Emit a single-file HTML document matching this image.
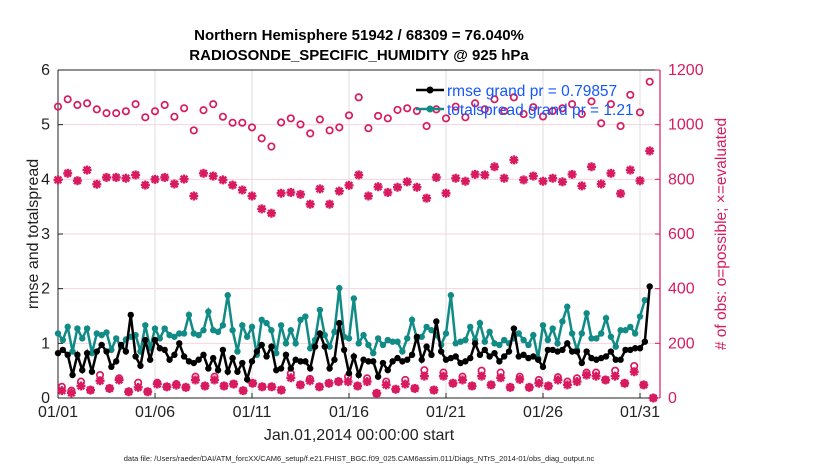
<!DOCTYPE html>
<html><head><meta charset="utf-8"><style>
body{margin:0;background:#fff;}
svg{display:block;font-family:"Liberation Sans",sans-serif;}
</style></head><body>
<svg id="chart" width="830" height="470"></svg>
<script>
const rmse=[0.82,0.88,0.79,0.42,0.79,0.51,0.82,0.48,0.85,0.97,0.85,0.57,0.67,0.97,0.85,1.52,0.76,0.59,1.06,0.70,1.06,0.91,0.88,0.70,0.79,1.00,0.76,0.67,0.64,0.70,0.79,0.54,0.73,0.51,0.88,0.48,0.73,0.48,0.64,0.34,0.67,0.85,0.97,0.76,0.94,0.51,0.54,0.79,0.54,0.70,0.67,0.67,0.54,0.94,1.18,0.94,0.54,0.70,1.37,0.88,0.45,
0.76,0.42,0.70,0.67,0.67,0.39,0.64,0.51,0.67,0.73,0.67,0.70,0.79,1.12,0.70,0.94,0.79,1.40,0.85,0.70,0.73,0.76,0.64,0.67,0.73,1.00,0.79,0.88,0.76,0.82,0.67,0.76,0.85,1.27,0.76,0.79,0.73,0.76,0.70,0.57,0.88,0.88,0.85,0.88,1.00,0.85,0.85,0.64,0.85,0.73,0.70,0.73,0.76,0.85,0.70,0.70,0.88,0.88,0.91,0.91,1.03,2.04];
const spread=[1.18,1.06,1.30,0.85,1.27,1.09,1.27,0.82,1.18,1.15,1.20,0.88,1.09,0.94,1.07,1.12,1.15,0.85,1.33,0.91,1.27,1.09,1.27,1.15,1.12,1.18,1.18,1.52,1.18,1.15,1.24,1.58,1.24,1.21,1.33,1.88,1.24,0.85,1.33,1.12,1.30,0.79,1.43,1.37,1.24,0.82,1.33,1.00,1.24,1.00,1.43,1.49,0.91,1.06,1.61,1.15,0.94,1.21,2.01,1.12,1.09,
1.82,1.00,1.15,0.97,0.82,1.09,0.97,1.06,1.03,1.03,0.85,1.09,1.43,1.09,1.12,1.30,1.24,1.15,0.97,1.18,1.88,1.00,1.03,1.06,1.30,1.06,1.37,1.03,1.21,1.00,0.97,1.06,1.00,1.09,1.18,1.06,0.97,1.15,0.73,1.33,1.06,1.27,1.00,1.40,1.67,1.18,0.88,1.18,1.55,1.09,1.09,1.18,1.46,1.12,0.94,1.24,1.24,1.30,1.18,1.49,1.79];
const upperPossible=[1066,1093,1072,1078,1056,1042,1042,1049,1075,1027,1049,1072,1029,1060,979,1053,1075,1029,1007,1007,990,950,920,1008,1023,1001,968,1019,979,990,1034,1100,
987,1032,1023,1054,1060,1050,995,1056,1023,1066,1027,1078,1056,1093,1050,1100,1039,1064,1030,1050,1060,1075,1039,1085,1005,1075,995,1109,1045,1157];
const upperEvaluated=[798,822,795,834,782,807,807,804,816,779,800,807,783,801,739,822,812,798,779,761,739,692,676,749,752,745,709,765,709,757,778,816,
739,773,752,771,791,771,731,807,749,804,793,818,816,846,804,871,798,812,793,804,791,818,776,846,783,822,748,834,795,904];
const lowerPossible=[41,27,60,29,84,35,72,23,56,23,56,41,51,39,78,44,78,44,51,27,54,41,41,29,90,48,70,41,54,60,78,
44,72,17,60,32,66,35,102,29,93,54,78,44,100,48,93,39,78,39,66,44,76,60,72,93,93,66,100,54,117,48,0];
const lowerEvaluated=[27,19,44,29,63,35,66,23,39,23,51,41,47,39,66,44,66,44,51,27,54,41,41,29,74,48,63,41,54,60,60,
44,60,17,48,32,51,35,80,29,80,54,66,44,80,48,74,39,68,39,54,44,66,48,60,84,80,66,80,54,96,48,0];
const xTickLabels=["01/01","01/06","01/11","01/16","01/21","01/26","01/31"];
const xTickDays=[0,5,10,15,20,25,30];
const leftTicks=[0,1,2,3,4,5,6];
const rightTicks=[0,200,400,600,800,1000,1200];

const L=58,R=660,T=70,B=398;
const xs=d=>L+d*19.4;
const yl=v=>B-v*(B-T)/6;
const yr=v=>B-v*(B-T)/1200;
const svg=document.getElementById('chart');
const NS='http://www.w3.org/2000/svg';
function mk(tag,attrs,parent){const e=document.createElementNS(NS,tag);for(const k in attrs)e.setAttribute(k,attrs[k]);(parent||svg).appendChild(e);return e;}
const CR='#d81b60',TE='#108b85';

xTickDays.forEach((d,i)=>{const g=mk('line',{x1:xs(d),x2:xs(d),y1:T,y2:B,stroke:'#dcdcdc','stroke-width':1});

});
rightTicks.forEach(v=>{const g=mk('line',{x1:L,x2:R,y1:yr(v),y2:yr(v),stroke:'#f6d3df','stroke-width':1});

});

mk('line',{x1:L,x2:R,y1:T,y2:T,stroke:'#222','stroke-width':1});
const xa=mk('line',{x1:L,x2:R,y1:B,y2:B,stroke:'#222','stroke-width':1});


const la=mk('line',{x1:L,x2:L,y1:T,y2:B,stroke:'#222','stroke-width':1});


const ra=mk('line',{x1:R,x2:R,y1:T,y2:B,stroke:CR,'stroke-width':1.2});



xTickDays.forEach((d,i)=>{mk('line',{x1:xs(d),x2:xs(d),y1:B,y2:B-5,stroke:'#222'});
const t=mk('text',{x:xs(d),y:B+19,'text-anchor':'middle','font-size':16,fill:'#222'});t.textContent=xTickLabels[i];

});
leftTicks.forEach(v=>{mk('line',{x1:L,x2:L+5,y1:yl(v),y2:yl(v),stroke:'#222'});
const t=mk('text',{x:L-8,y:yl(v)+5,'text-anchor':'end','font-size':16,fill:'#222'});t.textContent=v;

});
rightTicks.forEach(v=>{mk('line',{x1:R,x2:R-5,y1:yr(v),y2:yr(v),stroke:CR});
const t=mk('text',{x:R+8,y:yr(v)+5,'text-anchor':'start','font-size':16,fill:CR});t.textContent=v;

});

function circle(x,y,name){const c=mk('circle',{cx:x,cy:y,r:3.2,fill:'none',stroke:CR,'stroke-width':1.7});

}
function star(x,y,name){const g=mk('g',{stroke:CR,'stroke-width':2.4});
mk('line',{x1:x-4.5,x2:x+4.5,y1:y,y2:y},g);mk('line',{x1:x,x2:x,y1:y-4.5,y2:y+4.5},g);
mk('line',{x1:x-3.3,x2:x+3.3,y1:y-3.3,y2:y+3.3},g);mk('line',{x1:x-3.3,x2:x+3.3,y1:y+3.3,y2:y-3.3},g);

}
upperPossible.forEach((v,i)=>circle(xs(i*0.5),yr(v),'possible-obs-point'));
upperEvaluated.forEach((v,i)=>star(xs(i*0.5),yr(v),'evaluated-obs-point'));
const lowDay=i=>0.2+i*0.4917;
lowerEvaluated.forEach((v,i)=>star(xs(lowDay(i)),yr(v),'evaluated-obs-point'));
lowerPossible.forEach((v,i)=>circle(xs(lowDay(i)),yr(v),'possible-obs-point'));

function series(arr,color,name){
const pts=arr.map((v,i)=>xs(i*0.25)+','+yl(v)).join(' ');
const p=mk('polyline',{points:pts,fill:'none',stroke:color,'stroke-width':2.5});


arr.forEach((v,i)=>{const c=mk('circle',{cx:xs(i*0.25),cy:yl(v),r:3.2,fill:color});

});}
series(spread,TE,'totalspread');
series(rmse,'#000','rmse');

const lg=mk('g',{});


mk('line',{x1:416,x2:444,y1:90,y2:90,stroke:'#000','stroke-width':2.4},lg);
mk('circle',{cx:430,cy:90,r:3.5,fill:'#000'},lg);
mk('line',{x1:416,x2:444,y1:109,y2:109,stroke:TE,'stroke-width':2.4},lg);
mk('circle',{cx:430,cy:109,r:3.5,fill:TE},lg);
const l1=mk('text',{x:447,y:96,'font-size':15.5,fill:'#1457ff'},lg);l1.textContent='rmse grand pr = 0.79857';


const l2=mk('text',{x:447,y:115,'font-size':15.5,fill:'#1457ff'},lg);l2.textContent='totalspread grand pr = 1.21';



function txt(s,attrs,name){const t=mk('text',attrs);t.textContent=s;

return t;}
txt('Northern Hemisphere 51942 / 68309 = 76.040%',{x:359,y:40,'text-anchor':'middle','font-size':15,'font-weight':'bold',fill:'#000'},'chart-title');
txt('RADIOSONDE_SPECIFIC_HUMIDITY @ 925 hPa',{x:359,y:60,'text-anchor':'middle','font-size':15,'font-weight':'bold',fill:'#000'},'chart-subtitle');
txt('Jan.01,2014 00:00:00 start',{x:359,y:440,'text-anchor':'middle','font-size':16,fill:'#222'},'x-axis-title');
txt('rmse and totalspread',{x:0,y:0,'text-anchor':'middle','font-size':16,fill:'#222',transform:'translate(38,234) rotate(-90)'},'left-y-axis-title');
txt('# of obs: o=possible; \u00d7=evaluated',{x:0,y:0,'text-anchor':'middle','font-size':15.5,fill:CR,transform:'translate(726,234) rotate(-90)'},'right-y-axis-title');
txt('data file: /Users/raeder/DAI/ATM_forcXX/CAM6_setup/f.e21.FHIST_BGC.f09_025.CAM6assim.011/Diags_NTrS_2014-01/obs_diag_output.nc',{x:359,y:461,'text-anchor':'middle','font-size':7.5,fill:'#222'},'data-file-footnote');
</script>
</body></html>
